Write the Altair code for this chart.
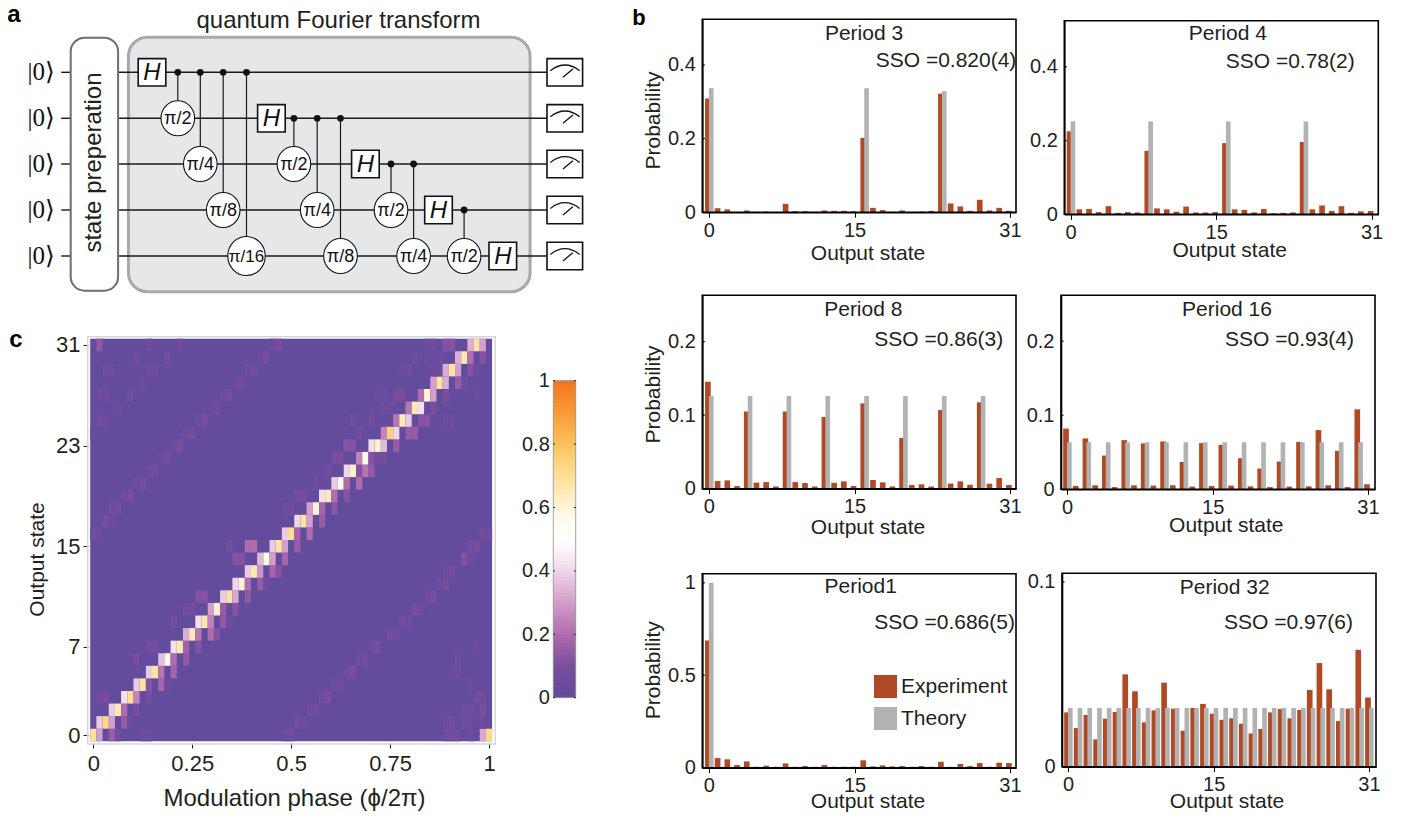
import altair as alt
import pandas as pd

FONT = "Liberation Sans"
INK = "#231f20"
RED = "#b14a24"
GRAY = "#b2b2b2"

# ---------------- panel b values ----------------
exp_p3 = [.309,.011,.008,.001,.005,.001,.002,.001,.023,.003,.003,.001,.005,.004,.004,.003,
          .202,.012,.006,.001,.005,.001,.002,.004,.322,.024,.016,.004,.034,.005,.012,.004]
exp_p4 = [.225,.0135,.0145,.006,.022,.004,.006,.005,.172,.016,.0135,.007,.021,.005,.005,.006,
          .193,.0135,.012,.005,.0145,.003,.004,.005,.196,.0135,.024,.009,.022,.004,.008,.009]
exp_p8 = [.1455,.0104,.0113,.0036,.105,.0082,.009,.003,.105,.009,.0077,.003,.0975,.008,.01,.0036,
          .116,.0118,.0086,.003,.069,.005,.006,.003,.107,.007,.01,.0054,.1175,.0068,.0145,.005]
exp_p16 = [.082,.0045,.0687,.0054,.0456,.003,.0664,.0054,.062,.005,.0646,.0054,.037,.0036,.0623,.0045,
           .06,.005,.042,.004,.028,.003,.0375,.0036,.064,.004,.08,.0054,.052,.003,.108,.0068]
exp_p1 = [.688,.052,.045,.0144,.034,.005,.011,.005,.023,.005,.009,.005,.0144,.005,.005,.005,
          .04,.007,.0126,.007,.009,.005,.009,.005,.032,.005,.02,.009,.025,.005,.027,.025]
exp_p32 = [.0294,.0209,.028,.0148,.026,.0296,.05,.0408,.024,.0305,.0455,.0314,.0195,.0318,.034,.0287,
           .0254,.0262,.0233,.018,.0204,.0294,.0312,.0262,.0307,.0415,.0561,.0419,.0247,.0314,.0633,.0375]
theory_p3 = {0: .337, 16: .337, 24: .329}
theory_p4 = {0: .252, 8: .252, 16: .252, 24: .252}
theory_p8 = {0: .126, 4: .126, 8: .126, 12: .126, 16: .126, 20: .126, 24: .126, 28: .126}
theory_p16 = {0:.0635,2:.0635,4:.0635,6:.0635,8:.0635,10:.0635,12:.0635,14:.0635,
              16:.0635,18:.0635,20:.0635,22:.0635,24:.0635,26:.0635,28:.0635,30:.0635}
theory_p1 = {0: 1.0}
theory_p32 = {0:.0318,1:.0318,2:.0318,3:.0318,4:.0318,5:.0318,6:.0318,7:.0318,8:.0318,9:.0318,10:.0318,
              11:.0318,12:.0318,13:.0318,14:.0318,15:.0318,16:.0318,17:.0318,18:.0318,19:.0318,20:.0318,
              21:.0318,22:.0318,23:.0318,24:.0318,25:.0318,26:.0318,27:.0318,28:.0318,29:.0318,30:.0318,31:.0318}

# ---------------- panel c values: row = output state, {column: probability} ----------------
heat_rows = [
 {0:.7,1:.3,3:.15,4:.08,8:.04,9:.04,31:.04,32:.06,57:.06,58:.07,59:.05,61:.04,63:.32,64:.72},
 {1:.38,2:.72,3:.3,5:.15,6:.05,33:.08,34:.05,57:.05,58:.07,60:.06,61:.05,63:.05},
 {3:.38,4:.66,5:.2,7:.1,35:.05,36:.08,60:.06,61:.06,63:.1},
 {1:.08,2:.08,5:.42,6:.7,7:.25,9:.08,37:.06,38:.1,62:.06,63:.06},
 {7:.38,8:.68,9:.12,11:.18,12:.05,39:.05,40:.08,61:.05},
 {9:.38,10:.68,11:.22,13:.18,41:.05,42:.1,58:.05,59:.05},
 {7:.1,11:.36,12:.57,13:.2,15:.14,43:.05,44:.08,59:.05},
 {9:.08,10:.08,13:.42,14:.65,15:.17,17:.12,45:.05,46:.1,62:.05},
 {15:.33,16:.65,17:.22,19:.2,20:.12,48:.08,49:.05},
 {13:.08,17:.42,18:.66,19:.25,21:.14,22:.05,50:.08,51:.05},
 {15:.08,16:.08,19:.3,20:.62,21:.15,23:.12,52:.1,53:.05},
 {17:.12,18:.12,21:.38,22:.68,23:.32,25:.14,54:.05,55:.1},
 {23:.4,24:.6,25:.2,27:.15,28:.05,56:.05,57:.1},
 {25:.38,26:.66,27:.28,29:.18,30:.12,57:.05,58:.08},
 {23:.12,24:.12,27:.35,28:.58,29:.3,31:.18,60:.12,61:.05},
 {22:.08,25:.2,26:.2,29:.38,30:.68,31:.3,33:.15,61:.08,62:.1},
 {0:.06,1:.04,31:.38,32:.7,33:.18,35:.2,63:.06,64:.06},
 {2:.1,3:.04,33:.4,34:.68,35:.3,37:.15},
 {3:.06,4:.06,31:.05,32:.05,35:.3,36:.6,37:.18,39:.13},
 {5:.07,6:.1,33:.08,34:.08,37:.42,38:.65,39:.2,41:.12},
 {7:.05,8:.08,36:.05,39:.38,40:.57,41:.2,43:.2},
 {9:.05,10:.08,38:.06,41:.4,42:.62,43:.12,44:.22,45:.15},
 {11:.04,12:.08,39:.1,40:.1,43:.25,44:.58,45:.12,46:.07,47:.07},
 {13:.05,14:.1,41:.12,42:.12,45:.42,46:.62,47:.35,49:.15},
 {0:.03,15:.05,16:.08,43:.06,47:.25,48:.75,49:.4,51:.15,52:.15},
 {1:.06,2:.06,17:.05,18:.1,42:.06,45:.06,49:.22,50:.65,51:.38,53:.12,54:.12,57:.05,58:.05},
 {4:.04,19:.03,20:.08,47:.05,48:.05,51:.22,52:.65,53:.42,55:.1},
 {1:.05,2:.05,6:.07,21:.04,22:.09,46:.04,47:.04,49:.1,50:.1,53:.2,54:.6,55:.3,57:.1,62:.04},
 {8:.05,23:.05,24:.08,55:.3,56:.68,57:.33,59:.15,60:.07},
 {2:.05,3:.05,9:.05,10:.05,25:.05,26:.08,50:.05,51:.05,55:.04,56:.04,57:.33,58:.68,59:.3,61:.12,62:.05},
 {7:.06,12:.07,27:.05,28:.1,52:.05,54:.04,55:.04,56:.04,59:.33,60:.66,61:.2,63:.12},
 {1:.14,9:.06,14:.06,29:.05,30:.1,54:.05,55:.05,57:.12,58:.12,61:.33,62:.68,63:.3},
]
heat_x_ticks = [0, 0.25, 0.5, 0.75, 1]
heat_y_ticks = [0, 7, 15, 23, 31]
cbar_ticks = [0, 0.2, 0.4, 0.6, 0.8, 1]
cmap_stops = [0, .1, .2, .3, .4, .46, .5, .55, .6, .7, .8, .9, 1]
cmap_colors = ["#634b9d", "#794e9e", "#b06cab", "#d39ecb", "#eed6e9", "#fbf3f8", "#ffffff", "#fffdf4",
               "#fff4d6", "#fde096", "#fcc15a", "#f99a38", "#f3731d"]

# ---------------- circuit ----------------
wire_y = [72.3, 118.3, 164, 210, 256]
h_gates = [(152, 0), (271.4, 1), (365.4, 2), (438.5, 3), (502.8, 4)]
# x, control wire, target wire, label
phase_gates = [(177.8, 0, 1, "π/2"), (200.3, 0, 2, "π/4"), (223.2, 0, 3, "π/8"), (246.5, 0, 4, "π/16"),
               (293.9, 1, 2, "π/2"), (317.2, 1, 3, "π/4"), (340.5, 1, 4, "π/8"),
               (391, 2, 3, "π/2"), (413.6, 2, 4, "π/4"), (464.1, 3, 4, "π/2")]

# page-pixel scales for the schematic and free text
PXX = alt.Scale(domain=[8, 1404], range=[0, 1396])
PXY = alt.Scale(domain=[8, 812], range=[0, 804])
W, H = 1396, 804


def xq(f, scale=PXX, axis=None):
    return alt.X(f, type="quantitative", scale=scale, axis=axis, title=None)


def yq(f, scale=PXY, axis=None):
    return alt.Y(f, type="quantitative", scale=scale, axis=axis, title=None)


def box(rows, **mark):
    df = pd.DataFrame(rows, columns=["a", "b", "c", "d"])
    return alt.Chart(df).mark_rect(**mark).encode(x=xq("a"), x2="b", y=yq("c"), y2="d")


def segs(rows, **mark):
    df = pd.DataFrame(rows, columns=["a", "b", "c", "d"])
    return alt.Chart(df).mark_rule(**mark).encode(x=xq("a"), x2="b", y=yq("c"), y2="d")


def pts(rows, **mark):
    df = pd.DataFrame(rows, columns=["a", "c"])
    return alt.Chart(df).mark_point(**mark).encode(x=xq("a"), y=yq("c"))


def txt(rows, size, **mark):
    df = pd.DataFrame(rows, columns=["t", "a", "c"])
    opts = dict(font=FONT, color=INK, fontSize=size, baseline="alphabetic", align="center")
    opts.update(mark)
    return alt.Chart(df).mark_text(**opts).encode(x=xq("a"), y=yq("c"), text="t:N")


ELLIPSE = "M-0.96,0A0.96,1 0 1,1 0.96,0A0.96,1 0 1,1 -0.96,0Z"
METER = "M-1,-0.11Q0,-0.89 1,-0.11M-0.14,0.34L0.54,-0.23"

layers = []
# schematic
layers.append(box([(128.4, 530.1, 37.3, 291.7)], fill="#e6e7e8", stroke="#a7a9ac", strokeWidth=3, cornerRadius=19))
layers.append(segs([(61.2, 71, y, y) for y in wire_y] + [(118, 548, y, y) for y in wire_y], color="#1a1a1a", strokeWidth=1.4))
layers.append(box([(70.7, 118.1, 37.7, 290.7)], fill="white", stroke="#6d6e71", strokeWidth=2, cornerRadius=14))
layers.append(segs([(g[0], g[0], wire_y[g[1]], wire_y[g[2]]) for g in phase_gates], color="#1a1a1a", strokeWidth=1.2))
layers.append(box([(x - 13.8, x + 13.8, wire_y[w] - 13.7, wire_y[w] + 13.7) for x, w in h_gates], fill="white", stroke="#111111", strokeWidth=1.6))
small = [g for g in phase_gates if g[3] != "π/16"]
big = [g for g in phase_gates if g[3] == "π/16"]
layers.append(pts([(g[0], wire_y[g[2]]) for g in small], shape=ELLIPSE, size=1225, fill="white", stroke="#111111", strokeWidth=1.1, opacity=1, filled=True))
layers.append(pts([(g[0], wire_y[g[2]]) for g in big], shape=ELLIPSE, size=1521, fill="white", stroke="#111111", strokeWidth=1.1, opacity=1, filled=True))
layers.append(pts([(g[0], wire_y[g[1]]) for g in phase_gates], shape="circle", size=46, filled=True, color="#111111", opacity=1))
layers.append(box([(547, 582.6, y - 13.7, y + 13.7) for y in wire_y], fill="white", stroke="#111111", strokeWidth=1.6))
layers.append(pts([(565, y) for y in wire_y], shape=METER, size=853, filled=False, stroke="#111111", strokeWidth=1.3, opacity=1))
layers.append(txt([("H", x, wire_y[w] + 8) for x, w in h_gates], 24, fontStyle="italic", color="#111111"))
layers.append(txt([(g[3], g[0], wire_y[g[2]] + 6) for g in small], 18, color="#111111"))
layers.append(txt([(g[3], g[0], wire_y[g[2]] + 6) for g in big], 17, color="#111111"))
layers.append(txt([("|0⟩", 41, y + 7.5) for y in wire_y], 25, font="Liberation Serif, DejaVu Serif", color="#111111"))
layers.append(txt([("quantum Fourier transform", 338.5, 28)], 24))
layers.append(txt([("state preperation", 100.5, 162.5)], 24, angle=270))
layers.append(txt([("a", 14, 22)], 24, fontWeight="bold", color="black"))
layers.append(txt([("b", 639, 25)], 22, fontWeight="bold", color="black"))
layers.append(txt([("c", 16, 347)], 24, fontWeight="bold", color="black"))

# ---------------- heat map ----------------
CMAP = alt.Scale(domain=cmap_stops, range=cmap_colors)
HX = alt.Scale(domain=[-0.0078125, 1.0078125], range=[90.2 - 8, 492.1 - 8])
HY = alt.Scale(domain=[-0.5, 31.5], range=[741.3 - 8, 338.7 - 8])
layers.append(box([(87.7, 495.3, 336.7, 744)], fillOpacity=0, stroke="#d6d6d6", strokeWidth=1.5))
heat_bg = pd.DataFrame({"a": [-0.0078125], "b": [1.0078125], "c": [-0.5], "d": [31.5]})
layers.append(alt.Chart(heat_bg).mark_rect(fill=cmap_colors[0]).encode(x=xq("a", HX), x2="b", y=yq("c", HY), y2="d"))
cells = []
for r, row in enumerate(heat_rows):
    for col, v in row.items():
        cells.append({"a": col / 64 - 1 / 128, "b": col / 64 + 1 / 128, "c": r - .5, "d": r + .5, "v": v})
layers.append(
    alt.Chart(pd.DataFrame(cells)).mark_rect().encode(
        x=xq("a", HX, alt.Axis(values=heat_x_ticks, format=".2~f", orient="bottom", offset=743 - 8 - H, domain=False,
                               ticks=True, tickSize=5, tickColor=INK, labelFontSize=22, labelFont=FONT, labelColor=INK,
                               labelPadding=5, labelFlush=False, labelOverlap=False, grid=False,
                               title="Modulation phase (ϕ/2π)", titleFont=FONT, titleFontSize=24, titleFontWeight="normal",
                               titleColor=INK, titleX=294 - 8, titleY=805 - 743, titleBaseline="alphabetic")),
        x2="b",
        y=yq("c", HY, None), y2="d",
        color=alt.Color("v:Q", scale=CMAP, legend=None),
    )
)
layers.append(
    alt.Chart(pd.DataFrame({"s": heat_y_ticks})).mark_point(opacity=0).encode(
        y=alt.Y("s:Q", scale=HY, title=None,
                axis=alt.Axis(values=heat_y_ticks, orient="left", offset=-(88 - 8), domain=False, tickSize=5, tickColor=INK,
                              labelFontSize=22, labelFont=FONT, labelColor=INK, labelPadding=3, labelFlush=False, labelOverlap=False,
                              grid=False, title="Output state", titleFont=FONT, titleFontSize=21, titleFontWeight="normal",
                              titleColor=INK, titleAngle=270, titleBaseline="alphabetic", titleAlign="center",
                              titleX=43.5 - 88, titleY=559 - 8)),
        x=xq("s", alt.Scale(domain=[0, 31], range=[0, 10])),
    )
)

# ---------------- colour bar ----------------
CX = alt.Scale(domain=[0, 1], range=[553.3 - 8, 575.7 - 8])
CY = alt.Scale(domain=[0, 1], range=[697.7 - 8, 380.7 - 8])
bar_levels = [i / 100 for i in range(100)]
cb = pd.DataFrame({"a": [0] * 100, "b": [1] * 100, "c": bar_levels,
                   "d": [min(v + .014, 1) for v in bar_levels], "v": [v + .005 for v in bar_levels]})
layers.append(
    alt.Chart(cb).mark_rect().encode(
        x=xq("a", CX), x2="b",
        y=yq("c", CY, alt.Axis(values=cbar_ticks, format=".1~f", orient="left", offset=-(553.3 - 8), domain=False, ticks=False,
                               labelFontSize=20, labelFont=FONT, labelColor=INK, labelPadding=4, labelFlush=False,
                               labelOverlap=False, grid=False)),
        y2="d",
        color=alt.Color("v:Q", scale=CMAP, legend=None),
    )
)
cf = pd.DataFrame({"a": [0], "b": [1], "c": [0], "d": [1]})
layers.append(alt.Chart(cf).mark_rect(fillOpacity=0, stroke="#8f8f8f", strokeWidth=0.8).encode(x=xq("a", CX), x2="b", y=yq("c", CY), y2="d"))
ct = pd.DataFrame({"a": [0] * 6 + [.93] * 6, "b": [.07] * 6 + [1] * 6, "c": cbar_ticks * 2})
layers.append(alt.Chart(ct).mark_rule(color="black", strokeWidth=1).encode(x=xq("a", CX), x2="b", y=yq("c", CY)))


# ---------------- bar panels ----------------
def panel(exp, theory, frame, ymax, yticks, title_xy, left_title_y=None, legend=False):
    left, right, top, bottom, k0 = frame
    x_lo = -(k0 - left) / 9.709
    x_hi = x_lo + (right - left) / 9.709
    sx = alt.Scale(domain=[x_lo, x_hi], range=[left - 8, right - 8])
    sy = alt.Scale(domain=[0, ymax], range=[bottom - 8, top - 8])
    states = list(range(32))
    e = pd.DataFrame({"a": [k - .395 for k in states], "b": [k + .19 for k in states], "v": exp, "z": [0] * 32, "series": ["Experiment"] * 32})
    t = pd.DataFrame({"a": [float(k) for k in theory], "b": [k + .48 for k in theory], "v": list(theory.values()),
                      "z": [0] * len(theory), "series": ["Theory"] * len(theory)})
    leg = None
    if legend:
        leg = alt.Legend(orient="none", legendX=866, legendY=667, title=None, symbolType="square", symbolSize=529,
                         symbolStrokeWidth=0, labelFontSize=21, labelFont=FONT, labelColor=INK, rowPadding=9,
                         labelOffset=4, symbolOpacity=1)
    colour = alt.Color("series:N", scale=alt.Scale(domain=["Experiment", "Theory"], range=[RED, GRAY]), legend=leg)
    yaxis = dict(values=yticks, format=".1~f", orient="left", offset=-(left - 8), domainColor="black", domainWidth=1.6,
                 ticks=False, labelFontSize=20, labelFont=FONT, labelColor=INK, labelPadding=7, labelFlush=False,
                 labelOverlap=False, grid=False)
    if left_title_y is not None:
        yaxis.update(title="Probability", titleFont=FONT, titleFontSize=21, titleFontWeight="normal", titleColor=INK,
                     titleAngle=270, titleBaseline="alphabetic", titleAlign="center",
                     titleX=659.3 - left, titleY=left_title_y - 8)
    xaxis = alt.Axis(values=[0, 15, 31], orient="bottom", offset=bottom - 8 - H, domainColor="black", domainWidth=1.6,
                     tickColor="black", tickSize=5, labelFontSize=20, labelFont=FONT, labelColor=INK, labelPadding=3,
                     labelFlush=False, labelOverlap=False, grid=False, title="Output state", titleFont=FONT,
                     titleFontSize=21, titleFontWeight="normal", titleColor=INK,
                     titleX=title_xy[0] - 8, titleY=title_xy[1] - bottom, titleBaseline="alphabetic")
    out = [
        alt.Chart(e).mark_bar().encode(x=xq("a", sx, xaxis), x2="b", y=yq("v", sy, alt.Axis(**yaxis)), y2="z", color=colour),
        alt.Chart(t).mark_bar().encode(x=xq("a", sx), x2="b", y=yq("v", sy), y2="z",
                                       color=alt.Color("series:N", scale=alt.Scale(domain=["Experiment", "Theory"], range=[RED, GRAY]), legend=None)),
        alt.Chart(pd.DataFrame({"a": [x_lo], "b": [x_hi], "c": [0], "d": [ymax]})).mark_rect(fillOpacity=0, stroke="black", strokeWidth=1.6)
        .encode(x=xq("a", sx), x2="b", y=yq("c", sy), y2="d"),
        alt.Chart(pd.DataFrame({"a": [x_lo] * len(yticks), "b": [x_lo + .25] * len(yticks), "c": yticks}))
        .mark_rule(color="black", strokeWidth=1.3).encode(x=xq("a", sx), x2="b", y=yq("c", sy)),
    ]
    return out


layers += panel(exp_p3, theory_p3, (702.3, 1016, 19.3, 212.3, 708.9), .524, [0, .2, .4], (867.5, 259.3), 120)
layers += panel(exp_p4, theory_p4, (1064.3, 1378.3, 20.7, 214.3, 1070.6), .525, [0, .2, .4], (1229.2, 256.7))
layers += panel(exp_p8, theory_p8, (702.3, 1016, 295.3, 488.7, 708.9), .263, [0, .1, .2], (867.5, 533.3), 394)
layers += panel(exp_p16, theory_p16, (1061, 1375, 295.3, 489.3, 1067), .262, [0, .1, .2], (1225.8, 531.7))
layers += panel(exp_p1, theory_p1, (702.3, 1016, 573.7, 767.7, 708.9), 1.049, [0, .5, 1], (867.5, 807.5), 669.7, legend=True)
layers += panel(exp_p32, theory_p32, (1062, 1376, 573.3, 766.7, 1068), .1047, [0, .1], (1226.5, 807.5))

layers.append(txt([("Period 3", 864, 40), ("Period 4", 1227.8, 40), ("Period 8", 863.3, 315.7),
                   ("Period 16", 1227, 315.7), ("Period1", 860.7, 593.3), ("Period 32", 1224.7, 594)], 21))
layers.append(txt([("SSO =0.820(4)", 875.7, 66.7), ("SSO =0.78(2)", 1225.7, 67.7), ("SSO =0.86(3)", 874.3, 346),
                   ("SSO =0.93(4)", 1225, 346), ("SSO =0.686(5)", 874.3, 629), ("SSO =0.97(6)", 1224, 629)], 21, align="left"))

chart = (
    alt.layer(*layers)
    .resolve_scale(x="independent", y="independent", color="independent")
    .properties(width=W, height=H, padding=0, autosize=alt.AutoSizeParams(type="none"))
    .configure_view(stroke=None)
)
chart.save("out.html", embed_options={"renderer": "svg", "actions": False})
